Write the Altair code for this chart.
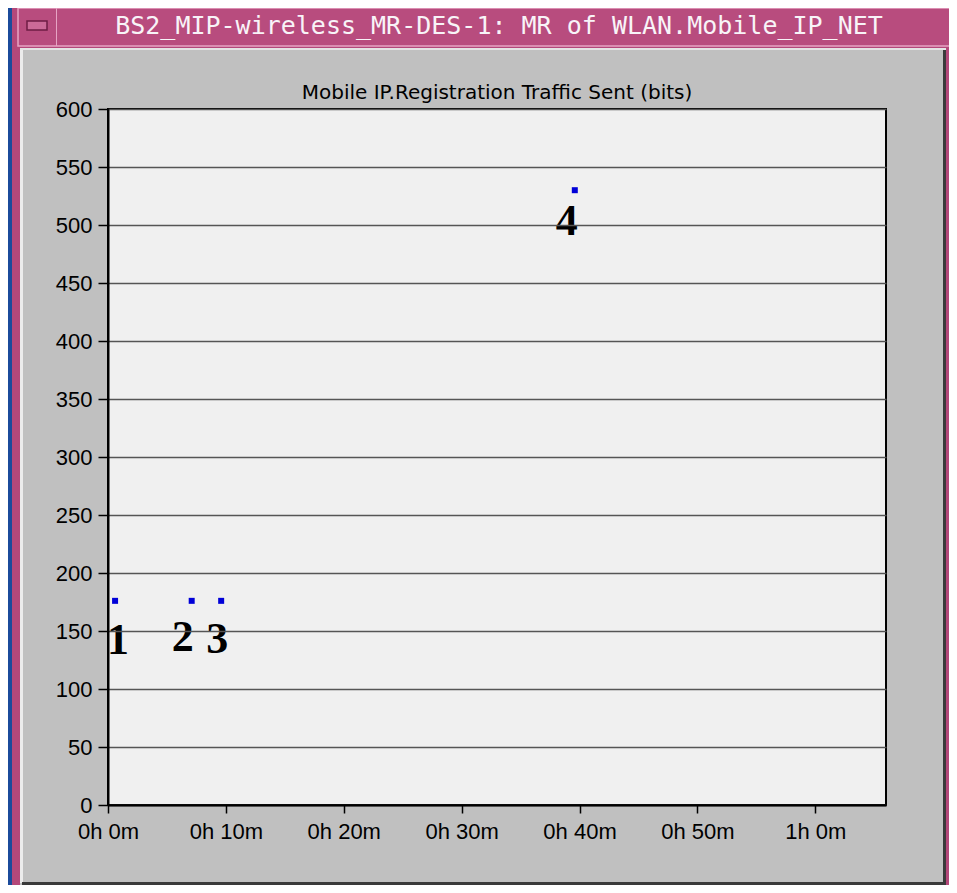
import altair as alt
import pandas as pd

# ---- data ----
times_min = [0.6, 7.1, 9.6, 39.6]        # simulation time in minutes
bits_sent = [176, 176, 176, 530]         # registration traffic sent (bits)
point_labels = ["1", "2", "3", "4"]
x_ticks = [0, 10, 20, 30, 40, 50, 60]
y_ticks = list(range(0, 601, 50))
window_title = "BS2_MIP-wireless_MR-DES-1: MR of WLAN.Mobile_IP_NET"
plot_title = "Mobile IP.Registration Traffic Sent (bits)"

W, H = 778, 696
df = pd.DataFrame({"t": times_min, "bits": bits_sent, "label": point_labels})
one = pd.DataFrame({"k": [0]})


def box(x, x2, y, y2, **kw):
    return alt.Chart(one).mark_rect(**kw).encode(
        x=alt.value(x), x2=alt.value(x2), y=alt.value(y), y2=alt.value(y2)
    )


PINK = "#b4487a"
# window decoration (pixel positions relative to plot origin)
decor = [
    box(-96, 846, -120, 800, color=PINK),
    box(-90, 842, -101, -63, fill="#b84c7e", stroke="#e6a4c4", strokeWidth=1.5),
    box(-52, -51, -101, -63, color="#e6a4c4"),
    box(-81, -61, -88, -79, fill="#cc6a98", stroke="#6e1c44", strokeWidth=1.5),
    box(-88, 838, -61, 776, color="#c0c0c0"),
    box(-88, -85, -61, 774, color="#ececec"),
    box(-88, 838, -61, -59, color="#e4e4e4"),
    box(835, 838, -59, 776, color="#3a3a3a"),
    box(-86, 838, 773, 776, color="#3a3a3a"),
    box(0, W, 0, H, fill="#f0f0f0", stroke="#000000", strokeWidth=2),
]

win_title = alt.Chart(one).mark_text(
    text=window_title, font="DejaVu Sans Mono", fontSize=25, color="#f8f4f8",
    align="center", baseline="middle",
).encode(x=alt.value(391), y=alt.value(-83))

chart_title = alt.Chart(one).mark_text(
    text=plot_title, font="DejaVu Sans", fontSize=20, color="#000000",
    align="center", baseline="alphabetic",
).encode(x=alt.value(W / 2), y=alt.value(-10))

xscale = alt.Scale(domain=[0, 66], nice=False, zero=False)
yscale = alt.Scale(domain=[0, 600], nice=False)

points = alt.Chart(df).mark_square(size=36, color="#0000d8", opacity=1).encode(
    x=alt.X("t:Q", scale=xscale, title=None, axis=alt.Axis(
        values=x_ticks, grid=False,
        labelExpr="floor(datum.value/60) + 'h ' + (datum.value % 60) + 'm'",
        labelFont="Liberation Sans", labelFontSize=22, labelColor="#000",
        tickColor="#000", tickSize=8, tickWidth=1.5, labelPadding=8,
        domainColor="#000", domainWidth=2, zindex=1, labelFlush=False,
    )),
    y=alt.Y("bits:Q", scale=yscale, title=None, axis=alt.Axis(
        values=y_ticks, grid=True, gridColor="#555555", gridWidth=1.5,
        labelFont="Liberation Sans", labelFontSize=22, labelColor="#000",
        tickColor="#000", tickSize=10, tickWidth=1.5, labelPadding=6,
        domainColor="#000", domainWidth=2, zindex=1,
    )),
)

offsets = {"1": (3, 40), "2": (-9, 37), "3": (-4, 39), "4": (-8, 32)}
label_layers = []
for lab in point_labels:
    dx, dy = offsets[lab]
    label_layers.append(
        alt.Chart(df).transform_filter(alt.datum.label == lab).mark_text(
            font="Liberation Serif", fontSize=44, fontWeight="bold", color="#000",
            align="center", baseline="middle", dx=dx, dy=dy,
        ).encode(x=alt.X("t:Q", scale=xscale), y=alt.Y("bits:Q", scale=yscale), text="label:N")
    )

chart = alt.layer(*decor, win_title, chart_title, points, *label_layers).properties(
    width=W, height=H,
    background="#1b4b9b",
    padding={"left": 100, "top": 101, "right": 63, "bottom": 80},
    autosize=alt.AutoSizeParams(type="none"),
).configure_view(strokeWidth=0)

chart.save("out.html", embed_options={"renderer": "svg", "actions": False})
